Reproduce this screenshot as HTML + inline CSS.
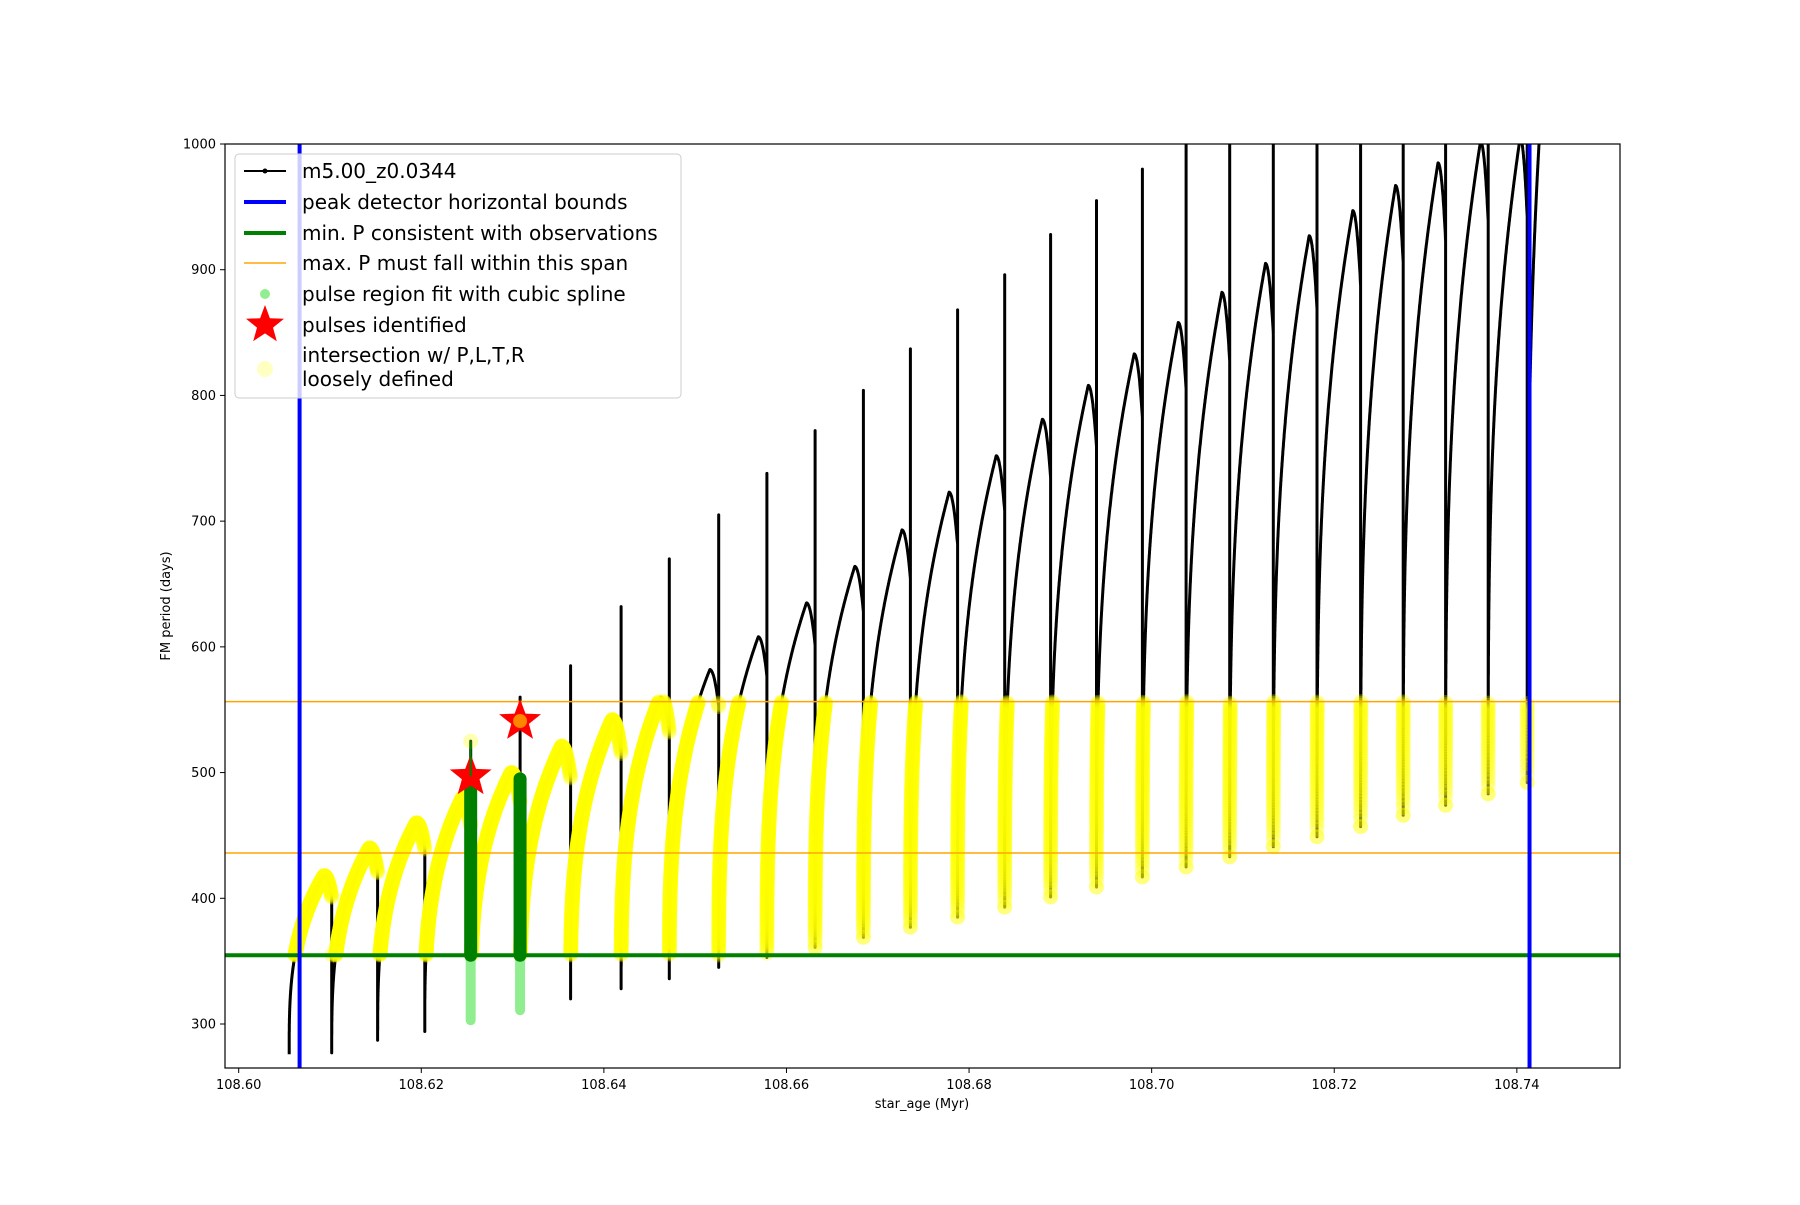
<!DOCTYPE html>
<html><head><meta charset="utf-8">
<style>
html,body{margin:0;padding:0;background:#fff;}
svg text{font-family:"DejaVu Sans","Liberation Sans",sans-serif;}
</style></head>
<body>
<svg id="chart" xmlns="http://www.w3.org/2000/svg" width="1800" height="1200" viewBox="0 0 1800 1200">
<rect x="0" y="0" width="1800" height="1200" fill="#fff"/>
<defs><clipPath id="plotclip"><rect x="225" y="144" width="1395" height="924"/></clipPath></defs>
<g id="plot" clip-path="url(#plotclip)"></g>
<rect x="225" y="144" width="1395" height="924" fill="none" stroke="#000" stroke-width="1.2"/>
<g id="ticks"></g>
<text x="922" y="1108" font-size="13" text-anchor="middle">star_age (Myr)</text>
<text x="170" y="606" font-size="13" text-anchor="middle" transform="rotate(-90 170 606)">FM period (days)</text>
<g>
<rect x="235" y="154" width="446" height="244" rx="4" fill="#fff" fill-opacity="0.8" stroke="#ccc" stroke-width="1"/>
<g><line x1="244" y1="171" x2="286" y2="171" stroke="#000" stroke-width="2"/><circle cx="265" cy="171" r="2.5" fill="#000"/><text x="302" y="178" font-size="20">m5.00_z0.0344</text></g>
<g><line x1="244" y1="202" x2="286" y2="202" stroke="#0000ff" stroke-width="4"/><text x="302" y="209" font-size="20">peak detector horizontal bounds</text></g>
<g><line x1="244" y1="233" x2="286" y2="233" stroke="#008000" stroke-width="4"/><text x="302" y="240" font-size="20">min. P consistent with observations</text></g>
<g><line x1="244" y1="263" x2="286" y2="263" stroke="#ffa500" stroke-width="1.5"/><text x="302" y="270" font-size="20">max. P must fall within this span</text></g>
<g><circle cx="265" cy="294" r="5" fill="#90ee90"/><text x="302" y="301" font-size="20">pulse region fit with cubic spline</text></g>
<g><polygon id="legstar" fill="#ff0000"/><text x="302" y="332" font-size="20">pulses identified</text></g>
<g><circle cx="265" cy="369" r="8" fill="#ffff99" fill-opacity="0.6"/><text x="302" y="362" font-size="20">intersection w/ P,L,T,R</text><text x="302" y="386" font-size="20">loosely defined</text></g>
</g>
</svg>
<script>
// ---- data ----
var dropTimes=[108.60553,108.61019,108.61522,108.62038,108.62541,108.63082,108.63635,108.64189,108.64717,108.65258,108.65786,108.66314,108.66843,108.67358,108.67874,108.68390,108.68893,108.69396,108.69899,108.70377,108.70855,108.71333,108.71811,108.72289,108.72755,108.73220,108.73686,108.74113];
var troughs=[276,277,287,294,303,311,320,328,336,345,353,361,369,377,385,393,401,409,417,425,433,441,449,457,466,474,483,492];
var peaks=[418,440,460,480,500,521,542,560,582,608,635,664,693,723,752,781,808,833,858,882,905,927,947,967,985,1002,1005,1080];
var spikes=[353,355,330,340,525,560,585,632,670,705,738,772,804,837,868,896,928,955,980,1050,1050,1050,1050,1050,1050,1050,1050,1050];
var lastCycleEnd=108.7436;
var pulseTimes=[108.62541,108.63082];
var pulsePeriods=[497,541];
var splineTops=[497,495];
var splineLows=[303,311];
var boundTimes=[108.60667,108.74139];
var minP=354.7;
var maxSpan=[436,556.4];
var xTicks=["108.60","108.62","108.64","108.66","108.68","108.70","108.72","108.74"];
var yTicks=[300,400,500,600,700,800,900,1000];

// ---- axes ----
var X0=108.5985,X1=108.7513,Y0=265,Y1=1000;
function sx(v){return 225+(v-X0)/(X1-X0)*1395;}
function sy(v){return 1068-(v-Y0)/(Y1-Y0)*924;}
var NS="http://www.w3.org/2000/svg";
function mk(tag,attrs,parent){var e=document.createElementNS(NS,tag);for(var k in attrs)e.setAttribute(k,attrs[k]);parent.appendChild(e);return e;}
var plot=document.getElementById('plot'),ticks=document.getElementById('ticks');

function shape(u){if(u<0.82)return Math.pow(u/0.82,0.33);var w=(u-0.82)/0.18;return 1-0.12*w*w;}
var pts=[];
for(var i=0;i<dropTimes.length;i++){
  var t0=dropTimes[i],t1=(i+1<dropTimes.length)?dropTimes[i+1]:lastCycleEnd;
  var N=500;
  for(var j=0;j<=N;j++){var v=j/N;var u=Math.pow(v,2.2);pts.push([t0+(t1-t0)*u,troughs[i]+(peaks[i]-troughs[i])*shape(u)]);}
  if(i+1<dropTimes.length){pts.push([t1,spikes[i+1]]);pts.push([t1,troughs[i+1]]);}
}
var d=pts.map(function(p,k){return (k?'L':'M')+sx(p[0]).toFixed(1)+' '+sy(p[1]).toFixed(1);}).join('');
var curve=mk('path',{d:d,fill:'none',stroke:'#000','stroke-width':'3','stroke-linejoin':'round'},plot);



var yg=mk('g',{},plot);


for(var k=0;k<pts.length;k++){var p=pts[k];
  if(p[1]>=minP&&p[1]<=maxSpan[1]&&p[0]>=dropTimes[0]){
    mk('circle',{cx:sx(p[0]).toFixed(1),cy:sy(p[1]).toFixed(1),r:'7.5',fill:'#ffff00','fill-opacity':'0.3'},yg);
  }}

for(var m=0;m<maxSpan.length;m++){
  var hl=mk('line',{x1:225,x2:1620,y1:sy(maxSpan[m]),y2:sy(maxSpan[m]),stroke:'#ffa500','stroke-width':'1.5'},plot);
  
  
}
var gl=mk('line',{x1:225,x2:1620,y1:sy(minP),y2:sy(minP),stroke:'#008000','stroke-width':'4'},plot);


for(var b=0;b<boundTimes.length;b++){
  var bl=mk('line',{x1:sx(boundTimes[b]),x2:sx(boundTimes[b]),y1:144,y2:1068,stroke:'#0000ff','stroke-width':'4'},plot);
  
  
}

function starPts(cx,cy,R){var s=[];for(var q=0;q<10;q++){var r=q%2?R*0.42:R;var a=-Math.PI/2+q*Math.PI/5;s.push((cx+r*Math.cos(a)).toFixed(1)+','+(cy+r*Math.sin(a)).toFixed(1));}return s.join(' ');}
for(var s=0;s<pulseTimes.length;s++){
  var x=sx(pulseTimes[s]);
  var lg=mk('line',{x1:x,x2:x,y1:sy(splineLows[s]),y2:sy(minP),stroke:'#90ee90','stroke-width':'10','stroke-linecap':'round'},plot);
  
  
  var gg=mk('line',{x1:x,x2:x,y1:sy(minP),y2:sy(splineTops[s]),stroke:'#008000','stroke-width':'13','stroke-linecap':'round'},plot);
  
  
  var st=mk('polygon',{points:starPts(x,sy(pulsePeriods[s]),22),fill:'#ff0000'},plot);
  
  
}
var sp=mk('line',{x1:sx(pulseTimes[0]),x2:sx(pulseTimes[0]),y1:sy(splineTops[0]),y2:sy(525),stroke:'#008000','stroke-width':'2'},plot);


var od=mk('circle',{cx:sx(pulseTimes[1]),cy:sy(pulsePeriods[1]),r:'7',fill:'#ffa500','fill-opacity':'0.8'},plot);


document.getElementById('legstar').setAttribute('points',starPts(265,325,20));

for(var a=0;a<xTicks.length;a++){var xv=sx(parseFloat(xTicks[a]));
  mk('line',{x1:xv,x2:xv,y1:1068,y2:1073,stroke:'#000'},ticks);
  var tx=mk('text',{x:xv,y:1089,'font-size':'13','text-anchor':'middle'},ticks);tx.textContent=xTicks[a];
  
  }
for(var c=0;c<yTicks.length;c++){var yv=sy(yTicks[c]);
  mk('line',{x1:220,x2:225,y1:yv,y2:yv,stroke:'#000'},ticks);
  var ty=mk('text',{x:216,y:yv+4.5,'font-size':'13','text-anchor':'end'},ticks);ty.textContent=yTicks[c];
  
  }
</script>
</body></html>
